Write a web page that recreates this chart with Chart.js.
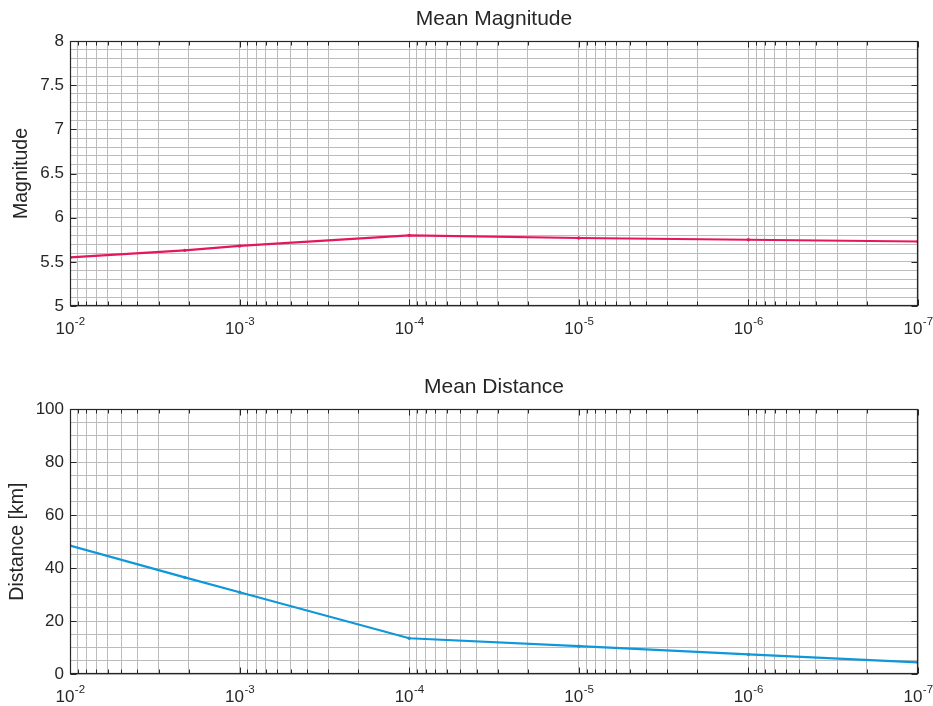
<!DOCTYPE html>
<html>
<head>
<meta charset="utf-8">
<script src="https://cdn.jsdelivr.net/npm/chart.js@4.4.1/dist/chart.umd.min.js"></script>
<style>
  html, body { margin: 0; padding: 0; background: #fff; }
  canvas { display: block; }
</style>
</head>
<body>
<canvas id="chartMag" width="933" height="353"></canvas>
<canvas id="chartDist" width="933" height="353"></canvas>
<script>
// annual exceedance probability (x axis, log scale, reversed)
const probabilities = [1e-2, 1 / 475, 1e-3, 1e-4, 1e-5, 1e-6, 1e-7];
const magnitudes = [5.55, 5.63, 5.68, 5.80, 5.77, 5.75, 5.73];
const distances = [48.5, 36.5, 30.9, 13.5, 10.5, 7.4, 4.4];

// tick labels
const xExponents = [-2, -3, -4, -5, -6, -7];
const magTicks = [5, 5.5, 6, 6.5, 7, 7.5, 8];
const distTicks = [0, 20, 40, 60, 80, 100];

const FONT = "'Liberation Sans', Arial, Helvetica, sans-serif";
const INK = '#262626';
const GRID = '#bcbcbc';
Chart.defaults.font.family = FONT;
Chart.defaults.color = INK;

// log grid lines: 1..9 x 10^e for every decade
const xGrid = [];
for (let e = -7; e < -2; e++) {
  for (let k = 1; k < 10; k++) xGrid.push(k * Math.pow(10, e));
}
xGrid.push(1e-2);

const isLabel = (list, v) => list.some(t => Math.abs(t - v) < 1e-6);

// box, inner tick marks and 10^n labels like the matlab figure
const framePlugin = {
  id: 'frame',
  afterDraw(chart) {
    const { ctx, chartArea: a, scales: { x, y } } = chart;
    const yLabels = chart.options.plugins.frame.yTicks;
    const L = Math.round(a.left) + 0.5, R = Math.round(a.right) - 0.5;
    const T = Math.round(a.top) + 0.5, B = Math.round(a.bottom) - 0.5;
    ctx.save();
    ctx.strokeStyle = INK;
    ctx.lineWidth = 1;
    ctx.beginPath();
    x.ticks.forEach(t => {
      const px = Math.round(x.getPixelForValue(t.value)) + 0.5;
      const lg = Math.log10(t.value);
      const len = Math.abs(lg - Math.round(lg)) < 1e-9 ? 6 : 4;
      ctx.moveTo(px, B); ctx.lineTo(px, B - len);
      ctx.moveTo(px, T); ctx.lineTo(px, T + len);
    });
    yLabels.forEach(v => {
      const py = Math.round(y.getPixelForValue(v)) + 0.5;
      ctx.moveTo(L, py); ctx.lineTo(L + 6, py);
      ctx.moveTo(R, py); ctx.lineTo(R - 6, py);
    });
    ctx.stroke();
    ctx.lineWidth = 1.2;
    ctx.strokeRect(L, T, R - L, B - T);

    ctx.fillStyle = INK;
    ctx.textAlign = 'left';
    ctx.textBaseline = 'alphabetic';
    xExponents.forEach(e => {
      const px = x.getPixelForValue(Math.pow(10, e));
      const sup = String(e);
      ctx.font = '17px ' + FONT;
      const wBase = ctx.measureText('10').width;
      ctx.font = '11.5px ' + FONT;
      const wSup = ctx.measureText(sup).width;
      const left = px - (wBase + wSup) / 2;
      ctx.font = '17px ' + FONT;
      ctx.fillText('10', left, a.bottom + 27.5);
      ctx.font = '11.5px ' + FONT;
      ctx.fillText(sup, left + wBase + 0.5, a.bottom + 19);
    });
    ctx.restore();
  }
};

function makeConfig(opts) {
  return {
    type: 'line',
    data: {
      datasets: [{
        data: probabilities.map((p, i) => ({ x: p, y: opts.values[i] })),
        borderColor: opts.color,
        backgroundColor: opts.color,
        borderWidth: 2.2,
        pointRadius: 1.7,
        pointBorderWidth: 0,
        tension: 0
      }]
    },
    plugins: [framePlugin],
    options: {
      responsive: false,
      animation: false,
      devicePixelRatio: 1,
      layout: { padding: { right: 15, left: 0, bottom: 0, top: 0 } },
      plugins: {
        legend: { display: false },
        tooltip: { enabled: false },
        title: {
          display: true,
          fullSize: false,
          text: opts.title,
          color: INK,
          font: { size: 21, weight: 'normal' },
          padding: opts.titlePad
        },
        frame: { yTicks: opts.ticks }
      },
      scales: {
        x: {
          type: 'logarithmic',
          reverse: true,
          min: 1e-7,
          max: 1e-2,
          afterBuildTicks: s => { s.ticks = xGrid.map(v => ({ value: v })); },
          afterFit: s => { s.height = opts.xHeight; },
          ticks: { display: false },
          grid: { color: GRID, drawTicks: false },
          border: { display: false }
        },
        y: {
          min: opts.min,
          max: opts.max,
          afterFit: s => { s.width = 70; },
          ticks: {
            stepSize: opts.step,
            autoSkip: false,
            padding: 6,
            color: INK,
            font: { size: 17 },
            callback: v => isLabel(opts.ticks, v) ? String(+v.toFixed(1)) : ''
          },
          title: {
            display: true,
            text: opts.yTitle,
            color: INK,
            font: { size: 19.5 },
            padding: { top: opts.yTitlePad, bottom: 0 }
          },
          grid: { color: GRID, drawTicks: false },
          border: { display: false }
        }
      }
    }
  };
}

new Chart(document.getElementById('chartMag'), makeConfig({
  title: 'Mean Magnitude',
  titlePad: { top: 6.9, bottom: 8.9 },
  yTitle: 'Magnitude',
  yTitlePad: 10,
  values: magnitudes,
  color: '#e5175b',
  min: 5, max: 8, step: 0.1,
  ticks: magTicks,
  xHeight: 47
}));

new Chart(document.getElementById('chartDist'), makeConfig({
  title: 'Mean Distance',
  titlePad: { top: 21.6, bottom: 9.5 },
  yTitle: 'Distance [km]',
  yTitlePad: 6,
  values: distances,
  color: '#0e97d9',
  min: 0, max: 100, step: 5,
  ticks: distTicks,
  xHeight: 32
}));
</script>
</body>
</html>
